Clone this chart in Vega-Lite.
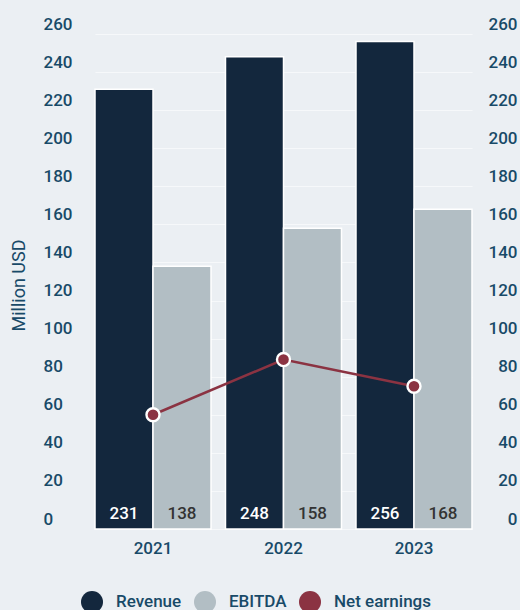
{
  "$schema": "https://vega.github.io/schema/vega-lite/v6.json",
  "width": 477,
  "height": 495,
  "autosize": {"type": "none"},
  "padding": {"left": 43, "top": 34, "right": 0, "bottom": 81},
  "background": "#ebeff3",
  "config": {
    "view": {"stroke": null},
    "font": "Roboto",
    "axis": {"labelFont": "Roboto", "titleFont": "Roboto"},
    "legend": {"labelFont": "Roboto"}
  },
  "data": {
    "values": [
      {"year": "2021", "series": "Revenue", "value": 231},
      {"year": "2021", "series": "EBITDA", "value": 138},
      {"year": "2021", "series": "Net earnings", "value": 60},
      {"year": "2022", "series": "Revenue", "value": 248},
      {"year": "2022", "series": "EBITDA", "value": 158},
      {"year": "2022", "series": "Net earnings", "value": 89},
      {"year": "2023", "series": "Revenue", "value": 256},
      {"year": "2023", "series": "EBITDA", "value": 168},
      {"year": "2023", "series": "Net earnings", "value": 75}
    ]
  },
  "encoding": {
    "x": {
      "field": "year",
      "type": "nominal",
      "scale": {"range": [52, 429], "paddingInner": 0.111, "paddingOuter": 0},
      "axis": {
        "title": null,
        "labelAngle": 0,
        "domain": false,
        "ticks": false,
        "tickSize": 0,
        "labelPadding": 24,
        "labelBaseline": "alphabetic",
        "labelFontSize": 17,
        "labelFontWeight": 500,
        "labelColor": "#184a68"
      }
    }
  },
  "layer": [
    {
      "transform": [{"filter": "datum.series !== 'Net earnings'"}],
      "mark": {"type": "bar", "stroke": "white", "strokeWidth": 1.5},
      "encoding": {
        "xOffset": {"field": "series", "type": "nominal", "sort": ["Revenue", "EBITDA"], "scale": {"paddingInner": 0, "paddingOuter": 0}},
        "y": {
          "field": "value",
          "type": "quantitative",
          "scale": {"domain": [0, 260], "nice": false},
          "axis": {
            "orient": "left",
            "values": [0, 20, 40, 60, 80, 100, 120, 140, 160, 180, 200, 220, 240, 260],
            "title": "Million USD",
            "titleFontSize": 18,
            "titleFontWeight": "normal",
            "titleColor": "#184a68",
            "titleX": -24,
            "titleY": 251,
            "titleAngle": -90,
            "titleBaseline": "middle",
            "domain": false,
            "ticks": false,
            "tickSize": 0,
            "labelPadding": 0,
            "labelAlign": "left",
            "labelBaseline": "alphabetic",
            "labelOffset": -5,
            "labelFontSize": 17,
            "labelFontWeight": 500,
            "labelColor": "#184a68",
            "grid": true,
            "gridColor": "#f6f8fa",
            "gridWidth": 1
          }
        },
        "color": {
          "field": "series",
          "type": "nominal",
          "scale": {"domain": ["Revenue", "EBITDA", "Net earnings"], "range": ["#13273d", "#b2bec4", "#8b3342"]},
          "legend": {
            "title": null,
            "orient": "none",
            "direction": "horizontal",
            "legendX": 38,
            "legendY": 557,
            "padding": 0,
            "symbolType": "circle",
            "symbolSize": 484,
            "symbolStrokeWidth": 0,
            "labelOffset": 13,
            "columnPadding": 12,
            "labelFontSize": 17,
            "labelFontWeight": 500,
            "labelColor": "#184a68",
            "labelBaseline": "middle"
          }
        }
      }
    },
    {
      "transform": [{"filter": "datum.series !== 'Net earnings'"}],
      "mark": {"type": "text", "baseline": "alphabetic", "dy": -10, "fontSize": 17, "fontWeight": 500},
      "encoding": {
        "xOffset": {"field": "series", "type": "nominal", "sort": ["Revenue", "EBITDA"], "scale": {"paddingInner": 0, "paddingOuter": 0}},
        "y": {"datum": 0, "axis": null},
        "text": {"field": "value", "type": "quantitative"},
        "color": {"condition": {"test": "datum.series === 'Revenue'", "value": "#ffffff"}, "value": "#333333"}
      }
    },
    {
      "transform": [{"filter": "datum.series === 'Net earnings'"}],
      "mark": {"type": "line", "color": "#8b3342", "strokeWidth": 2.5},
      "encoding": {
        "y": {
          "field": "value",
          "type": "quantitative",
          "axis": {
            "orient": "right",
            "values": [0, 20, 40, 60, 80, 100, 120, 140, 160, 180, 200, 220, 240, 260],
            "title": null,
            "domain": false,
            "ticks": false,
            "tickSize": 0,
            "labelPadding": -3,
            "labelAlign": "right",
            "labelBaseline": "alphabetic",
            "labelOffset": -5,
            "labelFontSize": 17,
            "labelFontWeight": 500,
            "labelColor": "#184a68",
            "grid": false
          }
        }
      }
    },
    {
      "transform": [{"filter": "datum.series === 'Net earnings'"}],
      "mark": {"type": "point", "filled": true, "fill": "#8b3342", "stroke": "white", "strokeWidth": 2.4, "size": 170, "opacity": 1},
      "encoding": {
        "y": {"field": "value", "type": "quantitative", "axis": null}
      }
    }
  ],
  "resolve": {"scale": {"y": "shared"}, "axis": {"y": "independent"}}
}
